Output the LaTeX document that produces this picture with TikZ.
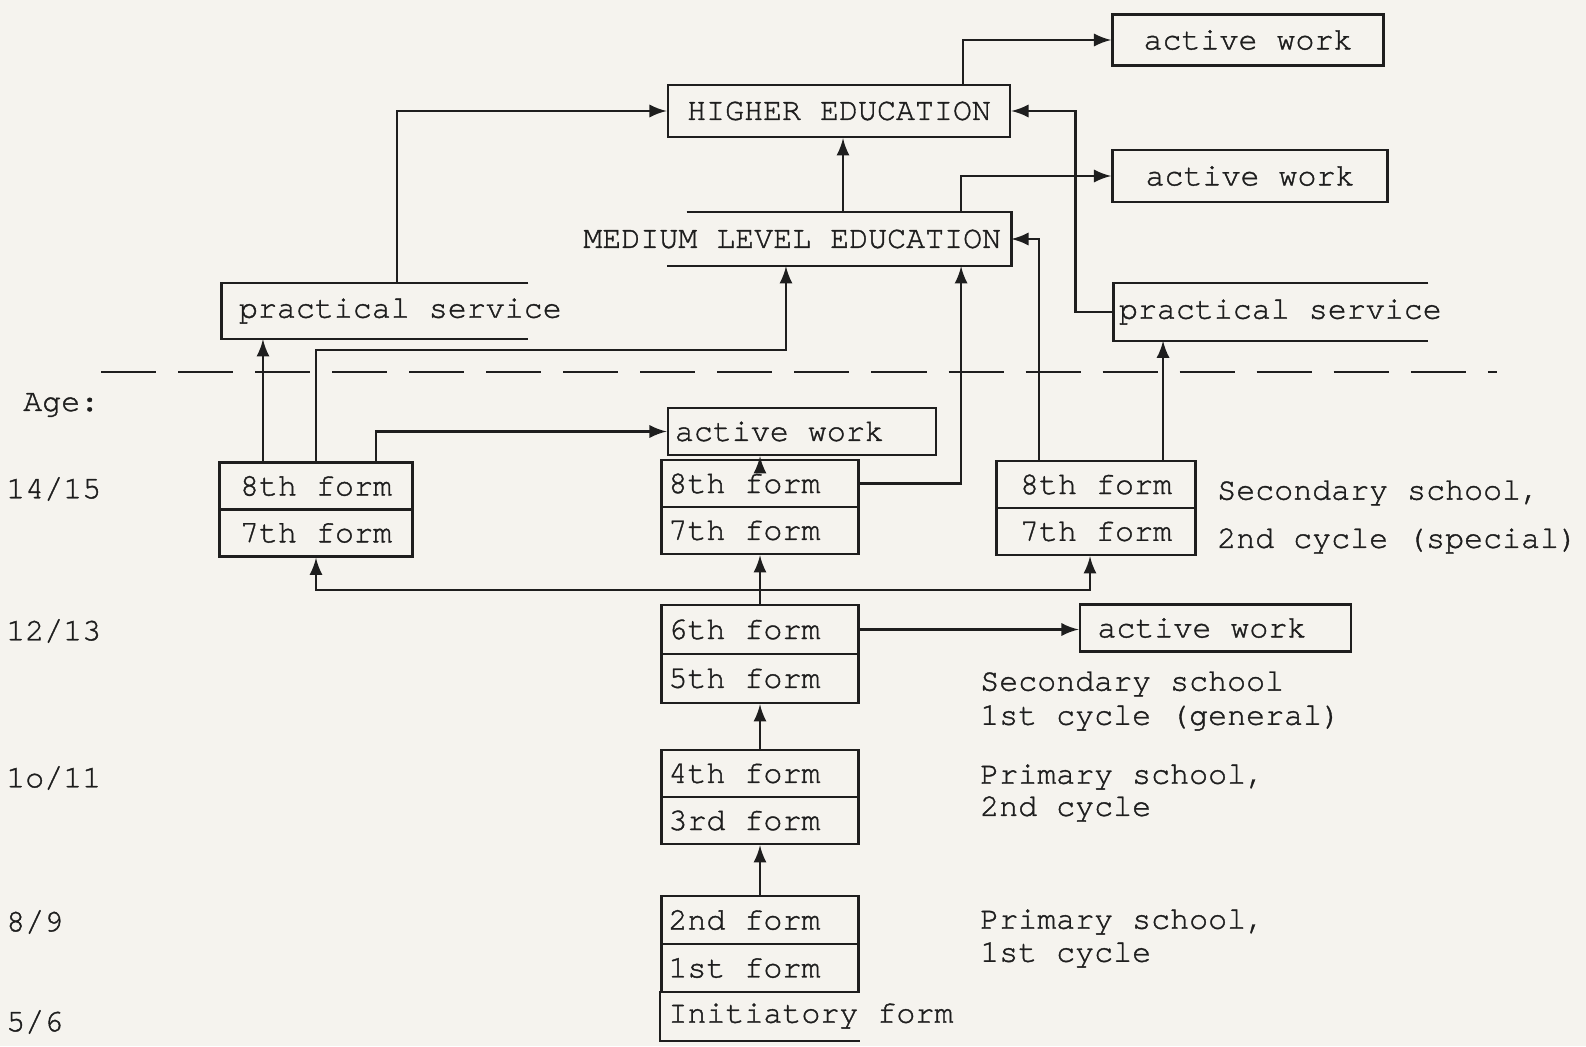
\documentclass[tikz,border=0pt]{standalone}
\usepackage{fontspec}
\setmainfont{TeX Gyre Cursor}[FakeBold=1.2]
\definecolor{paper}{RGB}{245,243,238}
\definecolor{ink}{RGB}{30,30,30}

\begin{document}
\begin{tikzpicture}[>=latex,x=0.01cm,y=-0.01cm,line width=0.7pt,color=ink,
    every node/.style={font=\fontsize{9}{11}\selectfont},
    box/.style={draw,minimum height=0.47cm,inner sep=0pt},
    lbox/.style={box,inner xsep=2pt,text width=1.83cm,align=flush left},
    open/.style={minimum height=0.52cm,inner sep=0pt},
    txt/.style={anchor=west,inner sep=0pt}]
          \fill[paper] (0,0) rectangle (1586,1046);
          \useasboundingbox (0,0) rectangle (1586,1046);
          \node[box,minimum width=2.71cm,minimum height=0.51cm] (aw1) at (1248,40) {active work};
          \node[box,minimum width=3.42cm,minimum height=0.52cm] (he) at (839,111) {HIGHER EDUCATION};
          \node[box,minimum width=2.75cm,minimum height=0.52cm] (aw2) at (1250,176) {active work};
          \node[open,minimum width=3.42cm] (mle) at (839,239) {};
          \node[txt,anchor=east] (mlet) at ([xshift=-0.09cm]mle.east) {MEDIUM LEVEL EDUCATION};
          \draw ([xshift=0.2cm]mle.north west) -- (mle.north east) -- (mle.south east) -- (mle.south west);
          \node[open,minimum width=3.04cm,minimum height=0.54cm] (ps1) at (375,311) {};
          \node[txt] (ps1t) at ([xshift=0.16cm]ps1.west) {practical service};
          \draw (ps1.north east) -- (ps1.north west) -- (ps1.south west) -- (ps1.south east);
          \node[open,minimum width=3.12cm,minimum height=0.55cm] (ps2) at (1271,312) {};
          \node[txt] (ps2t) at ([xshift=0.04cm]ps2.west) {practical service};
          \draw (ps2.north east) -- (ps2.north west) -- (ps2.south west) -- (ps2.south east);
          \draw[dash pattern=on 0.55cm off 0.22cm] (101,372) -- (1497,372);
          \node[txt] (age) at (22,405) {Age:};
          \node[txt] (a15) at (5,489) {14/15};
          \node[txt] (a13) at (5,631) {12/13};
          \node[txt] (a11) at (5,778) {1o/11};
          \node[txt] (a9) at (5,922) {8/9};
          \node[txt] (a6) at (5,1022) {5/6};
          \node[box,minimum width=1.93cm] (f8a) at (316,486) {8th form};
          \node[box,minimum width=1.93cm] (f7a) at (316,533) {7th form};
          \node[lbox,text width=2.54cm] (aw3) at (802,431.5) {active work};
          \node[lbox] (f8b) at (760,483.5) {8th form};
          \node[lbox] (f7b) at (760,530.5) {7th form};
          \node[box,minimum width=1.99cm] (f8c) at (1096,484.5) {8th form};
          \node[box,minimum width=1.99cm] (f7c) at (1096,531.5) {7th form};
          \node[txt] (s2a) at (1216,493) {Secondary school,};
          \node[txt] (s2b) at (1216,541) {2nd cycle (special)};
          \node[lbox,minimum height=0.49cm] (f6) at (760,629.5) {6th form};
          \node[lbox,minimum height=0.49cm] (f5) at (760,678.5) {5th form};
          \node[lbox,inner xsep=5pt,text width=2.36cm] (aw4) at (1215.5,628) {active work};
          \node[txt] (s1a) at (979,684) {Secondary school};
          \node[txt] (s1b) at (979,718) {1st cycle (general)};
          \node[lbox] (f4) at (760,773.5) {4th form};
          \node[lbox] (f3) at (760,820.5) {3rd form};
          \node[txt] (p2a) at (979,777) {Primary school,};
          \node[txt] (p2b) at (979,809) {2nd cycle};
          \node[lbox,minimum height=0.48cm] (f2) at (760,920) {2nd form};
          \node[lbox,minimum height=0.48cm] (f1) at (760,968) {1st form};
          \node[open,minimum width=1.97cm,minimum height=0.48cm] (fi) at (760,1016) {};
          \node[txt] (fit) at ([xshift=2pt]fi.west) {Initiatory form};
          \draw (fi.north west) -- (fi.south west) -- (fi.south east);
          \node[txt] (p1a) at (979,922) {Primary school,};
          \node[txt] (p1b) at (979,955) {1st cycle};
          \draw[->] ([xshift=1.24cm]he.north) |- (aw1.west);
          \draw[->] ([xshift=0.22cm]ps1.north) |- (he.west);
          \draw[->] ([xshift=0.04cm]mle.north) -- ([xshift=0.04cm]he.south);
          \draw[->] ([xshift=1.22cm]mle.north) |- (aw2.west);
          \draw[->] (ps2.west) -- ++(-38,0) |- (he.east);
          \draw[->] ([xshift=-0.57cm]f8c.north) |- (mle.east);
          \draw[->] ([xshift=0.67cm]f8c.north) -- ([xshift=0.67cm]f8c.north |- ps2.south);
          \draw[->] (f8b.east) -| ([xshift=1.22cm]mle.south);
          \draw[->] (f8a.north) -- ++(0,-111) -| ([xshift=-0.53cm]mle.south);
          \draw[->] ([xshift=-0.53cm]f8a.north) -- ([xshift=-0.53cm]f8a.north |- ps1.south);
          \draw[->] ([xshift=0.6cm]f8a.north) |- (aw3.west);
          \draw[->] (f8b.north) -- (f8b.north |- aw3.south);
          \coordinate (jn) at ([yshift=0.14cm]f6.north);
          \draw[->] (f6.north) -- (f7b.south);
          \draw[->] (jn) -| (f7a.south);
          \draw[->] (jn) -| ([xshift=-0.06cm]f7c.south);
          \draw[->] (f6.east) -- (f6.east -| aw4.west);
          \draw[->] (f4.north) -- (f5.south);
          \draw[->] (f2.north) -- (f3.south);
        \end{tikzpicture}
\end{document}
